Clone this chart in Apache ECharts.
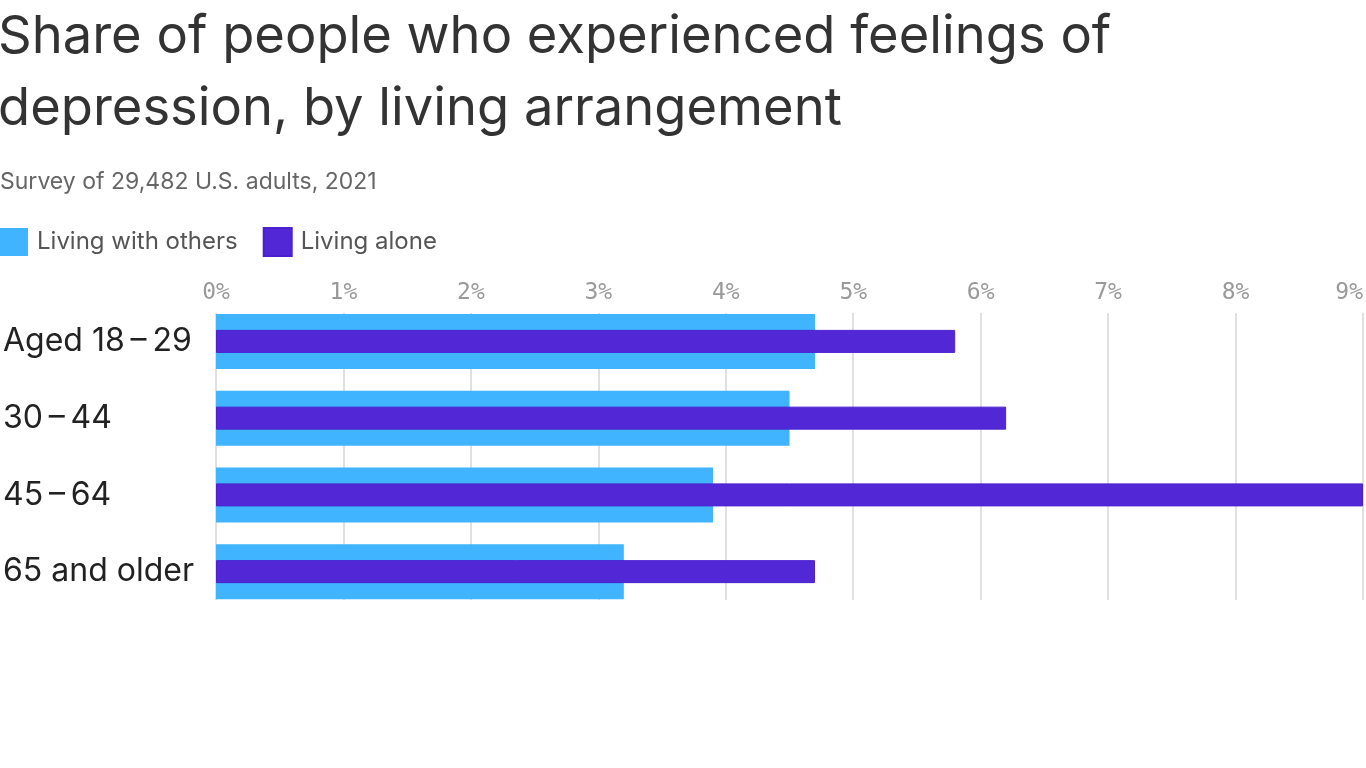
<!DOCTYPE html>
<html>
<head>
<meta charset="utf-8">
<script src="https://cdn.jsdelivr.net/npm/echarts@6/dist/echarts.min.js"></script>
<style>
html,body{margin:0;padding:0;background:#fff;}
#chart{width:1366px;height:768px;}
</style>
</head>
<body>
<div id="chart"></div>
<script>
const categories = ['Aged 18\u202F\u2013\u202F29', '30\u202F\u2013\u202F44', '45\u202F\u2013\u202F64', '65 and older'];
const livingWithOthers = [4.7, 4.5, 3.9, 3.2];
const livingAlone = [5.8, 6.2, 9.0, 4.7];
const xTicks = [0, 1, 2, 3, 4, 5, 6, 7, 8, 9];

const titleText = 'Share of people who experienced feelings of\ndepression, by living arrangement';
const subtitleText = 'Survey of 29,482 U.S. adults, 2021';

const chart = echarts.init(document.getElementById('chart'));
const FONT = 'Inter';
chart.setOption({
  backgroundColor: '#fff',
  animation: false,
  title: [{
    text: titleText,
    left: -2, top: 1, padding: 0,
    textStyle: { fontFamily: FONT, fontSize: 52.5, fontWeight: 'normal', color: '#333', lineHeight: 72 }
  }, {
    text: subtitleText,
    left: 0, top: 169, padding: 0,
    textStyle: { fontFamily: FONT, fontSize: 23, fontWeight: 'normal', color: '#666', lineHeight: 26 }
  }],
  legend: {
    left: 0, top: 227, padding: 0,
    itemWidth: 28, itemHeight: 28, itemGap: 25, icon: 'rect',
    textStyle: { fontFamily: FONT, fontSize: 24, color: '#555', padding: [0, 0, 0, 4] },
    data: ['Living with others', 'Living alone']
  },
  grid: [
    { left: 216, right: 3, top: 303, height: 307 },
    { left: 216, right: 3, top: 313, height: 287 }
  ],
  xAxis: [{
    gridIndex: 0, type: 'value', min: xTicks[0], max: xTicks[xTicks.length - 1], interval: 1, show: false
  }, {
    gridIndex: 1, type: 'value', min: xTicks[0], max: xTicks[xTicks.length - 1], interval: 1,
    position: 'top',
    axisLine: { show: false }, axisTick: { show: false },
    axisLabel: { formatter: '{value}%', fontFamily: 'DejaVu Sans Mono', fontSize: 23, color: '#999', margin: 8, alignMaxLabel: 'right' },
    splitLine: { show: true, lineStyle: { color: '#e0e0e0', width: 2 } }
  }],
  yAxis: [{
    gridIndex: 0, type: 'category', data: categories, inverse: true,
    axisLine: { show: false }, axisTick: { show: false },
    axisLabel: { align: 'left', margin: 213, fontFamily: FONT, fontSize: 32, color: '#222' }
  }, {
    gridIndex: 0, type: 'category', data: categories, inverse: true, show: false
  }, {
    gridIndex: 1, type: 'value', show: false
  }],
  series: [{
    name: 'Living with others', type: 'bar', xAxisIndex: 0, yAxisIndex: 0,
    data: livingWithOthers, barWidth: 55,
    itemStyle: { color: '#40B4FF' }
  }, {
    name: 'Living alone', type: 'bar', xAxisIndex: 0, yAxisIndex: 1,
    data: livingAlone, barWidth: 23,
    itemStyle: { color: '#5228D6', borderColor: '#4a20d0', borderWidth: 1 }
  }]
});
</script>
</body>
</html>
